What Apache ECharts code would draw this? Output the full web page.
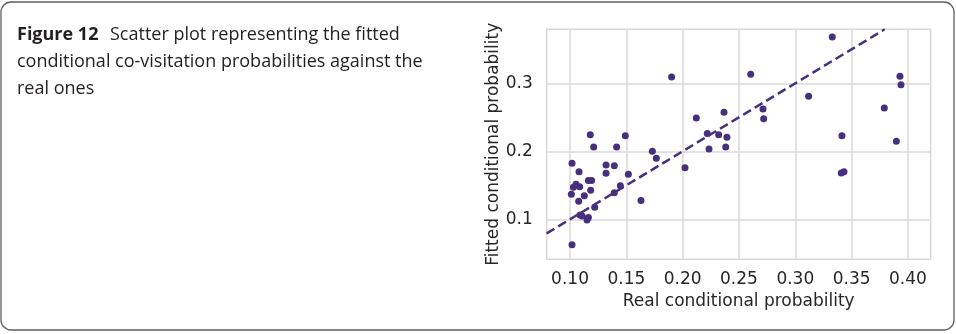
<!DOCTYPE html>
<html>
<head>
<meta charset="utf-8">
<style>
  html, body { margin: 0; padding: 0; background: #ffffff; }
  #chart { width: 956px; height: 334px; }
</style>
<script src="https://cdn.jsdelivr.net/npm/echarts@6/dist/echarts.min.js"></script>
</head>
<body>
<div id="chart"></div>
<script>
// Real (observed) conditional co-visitation probabilities
const realProb = [
  0.1902, 0.2604, 0.3328, 0.3929, 0.3938, 0.3118, 0.3790, 0.2713, 0.2719, 0.2367,
  0.2121, 0.2219, 0.2320, 0.2393, 0.2234, 0.2382, 0.3414, 0.3897, 0.3408, 0.3432,
  0.2021, 0.1731, 0.1766, 0.1630, 0.1518, 0.1491, 0.1414, 0.1180, 0.1210, 0.1320,
  0.1393, 0.1320, 0.1447, 0.1393, 0.1018, 0.1080, 0.1163, 0.1192, 0.1183, 0.1053,
  0.1030, 0.1086, 0.1012, 0.1127, 0.1077, 0.1219, 0.1089, 0.1107, 0.1163, 0.1151,
  0.1018
];
// Fitted conditional probabilities, same order as realProb
const fittedProb = [
  0.3093, 0.3132, 0.3681, 0.3103, 0.2980, 0.2809, 0.2637, 0.2623, 0.2480, 0.2574,
  0.2490, 0.2260, 0.2245, 0.2206, 0.2034, 0.2064, 0.2230, 0.2147, 0.1681, 0.1700,
  0.1760, 0.2000, 0.1897, 0.1275, 0.1662, 0.2230, 0.2064, 0.2245, 0.2064, 0.1799,
  0.1789, 0.1676, 0.1495, 0.1392, 0.1824, 0.1701, 0.1569, 0.1569, 0.1426, 0.1515,
  0.1471, 0.1480, 0.1368, 0.1348, 0.1265, 0.1176, 0.1064, 0.1049, 0.1025, 0.0990,
  0.0627
];
// Tick positions
const xTicks = [0.10, 0.15, 0.20, 0.25, 0.30, 0.35, 0.40];
const yTicks = [0.1, 0.2, 0.3];
// Axis extents
const xRange = [0.0793, 0.4202];
const yRange = [0.0412, 0.3794];
// Identity line y = x across the visible range
const identityLine = [[xRange[0], xRange[0]], [yRange[1], yRange[1]]];

const purple = '#46307e';
const gridGray = '#d8d8d8';
const tickFont = 'DejaVu Sans';
const captionFont = '"Open Sans"';

const chart = echarts.init(document.getElementById('chart'), null, { renderer: 'canvas' });

const points = realProb.map((x, i) => [x, fittedProb[i]]);

chart.setOption({
  animation: false,
  backgroundColor: '#ffffff',
  grid: {
    left: 546.7, right: 25.3, top: 29.3, bottom: 74.7,
    show: true, borderColor: gridGray, borderWidth: 1.5, backgroundColor: 'transparent'
  },
  xAxis: {
    type: 'value',
    min: xRange[0], max: xRange[1],
    name: 'Real conditional probability',
    nameLocation: 'middle',
    nameGap: 33,
    nameTextStyle: { fontFamily: tickFont, fontSize: 17, color: '#262626' },
    axisLine: { show: false },
    axisTick: { show: false, customValues: xTicks },
    axisLabel: {
      customValues: xTicks, margin: 12,
      fontFamily: tickFont, fontSize: 17, color: '#262626',
      formatter: v => v.toFixed(2)
    },
    splitLine: { show: true, lineStyle: { color: gridGray, width: 1.5 } }
  },
  yAxis: {
    type: 'value',
    min: yRange[0], max: yRange[1],
    name: 'Fitted conditional probability',
    nameLocation: 'middle',
    nameGap: 44,
    nameRotate: 90,
    nameTextStyle: { fontFamily: tickFont, fontSize: 17, color: '#262626' },
    axisLine: { show: false },
    axisTick: { show: false, customValues: yTicks },
    axisLabel: {
      customValues: yTicks, margin: 14,
      fontFamily: tickFont, fontSize: 17, color: '#262626',
      formatter: v => v.toFixed(1)
    },
    splitLine: { show: true, lineStyle: { color: gridGray, width: 1.5 } }
  },
  series: [
    {
      type: 'line',
      data: identityLine,
      symbol: 'none',
      lineStyle: { color: purple, width: 2.5, type: [9, 4.5] },
      z: 3
    },
    {
      type: 'scatter',
      data: points,
      symbolSize: 7,
      itemStyle: { color: purple, opacity: 1 },
      z: 4
    }
  ],
  graphic: [
    {
      type: 'rect', silent: true, z: -1,
      shape: { x: 1, y: 2, width: 953, height: 328, r: 10 },
      style: { fill: 'none', stroke: '#5e5e5e', lineWidth: 1.3 }
    },
    {
      type: 'text', left: 17, top: 26,
      style: { text: 'Figure 12', font: 'bold 18px ' + captionFont, fill: '#231f20' }
    },
    {
      type: 'text', left: 110, top: 26,
      style: { text: 'Scatter plot representing the fitted', font: '18px ' + captionFont, fill: '#231f20' }
    },
    {
      type: 'text', left: 17, top: 53,
      style: { text: 'conditional co-visitation probabilities against the', font: '18px ' + captionFont, fill: '#231f20' }
    },
    {
      type: 'text', left: 17, top: 79.5,
      style: { text: 'real ones', font: '18px ' + captionFont, fill: '#231f20' }
    }
  ]
});
</script>
</body>
</html>
